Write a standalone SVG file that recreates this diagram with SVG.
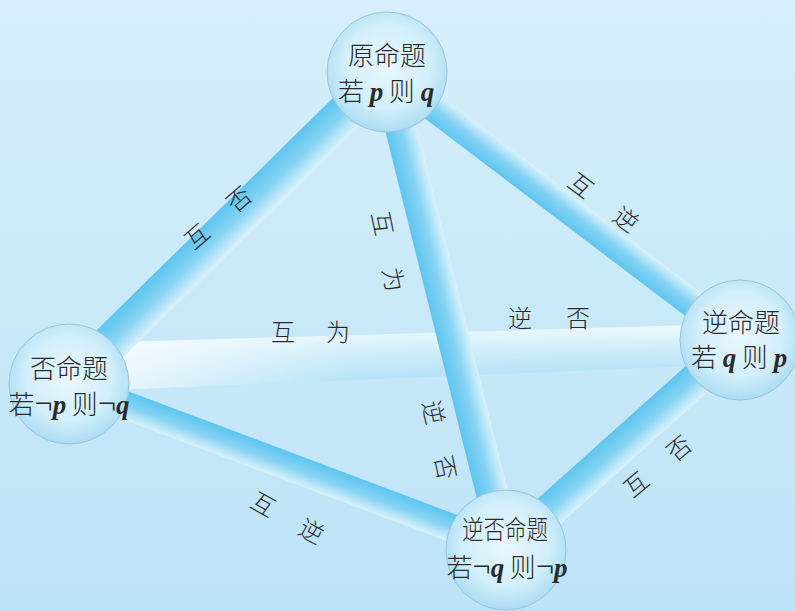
<svg xmlns="http://www.w3.org/2000/svg" width="795" height="611" viewBox="0 0 795 611">
<defs>
<linearGradient id="bg" x1="0" y1="0" x2="0" y2="1">
<stop offset="0" stop-color="#d6effb"/>
<stop offset="1" stop-color="#bde3f7"/>
</linearGradient>
<linearGradient id="barTop" x1="0" y1="0" x2="0" y2="1">
<stop offset="0" stop-color="#5dc5ef"/>
<stop offset="0.5" stop-color="#86d3f3"/>
<stop offset="0.85" stop-color="#c3e9f9"/>
<stop offset="1" stop-color="#d9f1fb"/>
</linearGradient>
<linearGradient id="barBot" x1="0" y1="1" x2="0" y2="0">
<stop offset="0" stop-color="#5dc5ef"/>
<stop offset="0.5" stop-color="#86d3f3"/>
<stop offset="0.85" stop-color="#c3e9f9"/>
<stop offset="1" stop-color="#d9f1fb"/>
</linearGradient>
<linearGradient id="hbar" x1="0" y1="0" x2="0" y2="1">
<stop offset="0" stop-color="#eef9fe"/>
<stop offset="0.4" stop-color="#cdecfa"/>
<stop offset="1" stop-color="#9fdbf5"/>
</linearGradient>
<linearGradient id="hfade" x1="0" y1="0" x2="1" y2="0">
<stop offset="0" stop-color="#ffffff" stop-opacity="0.75"/>
<stop offset="0.45" stop-color="#ffffff" stop-opacity="0.1"/>
<stop offset="1" stop-color="#ffffff" stop-opacity="0"/>
</linearGradient>
<radialGradient id="ball" cx="0.5" cy="0.45" r="0.55">
<stop offset="0" stop-color="#e9f7fd"/>
<stop offset="0.65" stop-color="#d2effb"/>
<stop offset="1" stop-color="#aadcf3"/>
</radialGradient>
</defs>
<style>
.node circle{fill:url(#ball);stroke:#9cc3d6;stroke-width:1}
.cjk{font-family:"Noto Sans CJK SC","Noto Sans CJK JP",sans-serif;font-weight:300;fill:#2a2a2a}
.nt{font-size:26px;text-anchor:middle}
.var{font-family:"Liberation Serif",serif;font-style:italic;font-weight:bold;font-size:27px}
.neg{font-family:"Liberation Serif",serif;font-size:32px}
.lbl{font-size:24px;text-anchor:middle;dominant-baseline:central}
</style>
<rect x="0" y="0" width="795" height="611" fill="url(#bg)"/>
<g id="connectors">
<polygon points="118,342 692,325 692,366 118,390" fill="url(#hbar)"/>
<polygon points="118,342 692,325 692,366 118,390" fill="url(#hfade)"/>
<g transform="translate(69,384) rotate(20.6)"><rect x="0" y="-14" width="467" height="28" fill="url(#barTop)"/></g>
<g transform="translate(69,384) rotate(-44.5)"><rect x="0" y="-19" width="446" height="38" fill="url(#barTop)"/></g>
<g transform="translate(387,72) rotate(37.2)"><rect x="0" y="-14" width="443" height="28" fill="url(#barBot)"/></g>
<g transform="translate(506,550) rotate(-41.9)"><rect x="0" y="-17" width="314" height="34" fill="url(#barTop)"/></g>
<g transform="translate(387,72) rotate(76)"><rect x="0" y="-16" width="491" height="32" fill="url(#barBot)"/></g>
</g>
<g id="labels" class="cjk lbl">
<text x="196" y="235" transform="rotate(-41 196 235)">互</text>
<text x="238" y="198" transform="rotate(-41 238 198)">否</text>
<text x="384" y="223" transform="rotate(78 384 223)">互</text>
<text x="395" y="279" transform="rotate(78 395 279)">为</text>
<text x="435" y="412" transform="rotate(78 435 412)">逆</text>
<text x="447" y="467" transform="rotate(78 447 467)">否</text>
<text x="283" y="330">互</text>
<text x="338" y="330">为</text>
<text x="520" y="316">逆</text>
<text x="578" y="316">否</text>
<text x="582" y="184" transform="rotate(37 582 184)">互</text>
<text x="627" y="218" transform="rotate(37 627 218)">逆</text>
<text x="635" y="483" transform="rotate(-40 635 483)">互</text>
<text x="678" y="447" transform="rotate(-40 678 447)">否</text>
<text x="264" y="503" transform="rotate(29 264 503)">互</text>
<text x="312" y="530" transform="rotate(29 312 530)">逆</text>
</g>
<g id="node-original" class="node">
<circle cx="387" cy="72" r="60"/>
<text class="cjk nt" x="387" y="65">原命题</text>
<text class="cjk nt" x="386" y="101">若 <tspan class="var">p</tspan> 则 <tspan class="var">q</tspan></text>
</g>
<g id="node-negation" class="node">
<circle cx="69" cy="384" r="60"/>
<text class="cjk nt" x="69" y="378">否命题</text>
<text class="cjk nt" x="69" y="414">若<tspan class="neg">¬</tspan><tspan class="var">p</tspan> 则<tspan class="neg">¬</tspan><tspan class="var">q</tspan></text>
</g>
<g id="node-converse" class="node">
<circle cx="740" cy="340" r="60"/>
<text class="cjk nt" x="741" y="332">逆命题</text>
<text class="cjk nt" x="739" y="367">若 <tspan class="var">q</tspan> 则 <tspan class="var">p</tspan></text>
</g>
<g id="node-contrapositive" class="node">
<circle cx="506" cy="550" r="60"/>
<text class="cjk nt" x="505" y="539" textLength="86" lengthAdjust="spacingAndGlyphs">逆否命题</text>
<text class="cjk nt" x="507" y="577">若<tspan class="neg">¬</tspan><tspan class="var">q</tspan> 则<tspan class="neg">¬</tspan><tspan class="var">p</tspan></text>
</g>
</svg>
